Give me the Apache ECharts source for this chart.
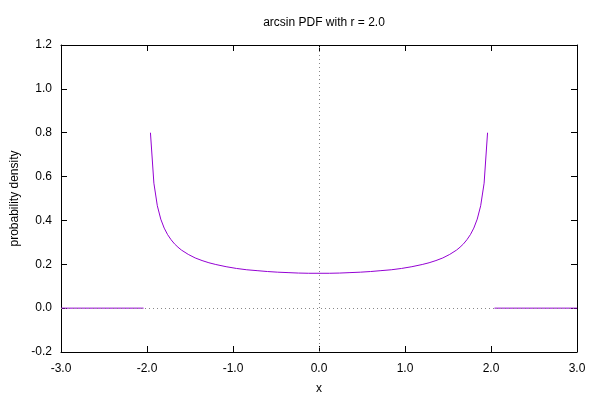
<!DOCTYPE html>
<html><head><meta charset="utf-8">
<script src="https://cdn.jsdelivr.net/npm/echarts@6/dist/echarts.min.js"></script>
<style>html,body{margin:0;padding:0;background:#fff}#c{width:600px;height:400px}</style>
</head><body><div id="c"></div>
<script>
const titleText = 'arcsin PDF with r = 2.0';
const xTicks = [-3, -2, -1, 0, 1, 2, 3];
const yTicks = [-0.2, 0, 0.2, 0.4, 0.6, 0.8, 1.0, 1.2];
// outside support: density 0
const leftZeroX = [-3.0, -2.04];
const leftZeroY = [0, 0];
const rightZeroX = [2.04, 3.0];
const rightZeroY = [0, 0];
// inside support
const curveX = [-1.96,-1.92,-1.88,-1.84,-1.80,-1.76,-1.72,-1.68,-1.64,-1.60,-1.52,-1.44,-1.36,-1.28,-1.20,-1.08,-0.96,-0.84,-0.72,-0.60,-0.48,-0.36,-0.24,-0.12,0,
  0.12,0.24,0.36,0.48,0.60,0.72,0.84,0.96,1.08,1.20,1.28,1.36,1.44,1.52,1.60,1.64,1.68,1.72,1.76,1.80,1.84,1.88,1.92,1.96];
const curveY = [0.80,0.57,0.467,0.406,0.365,0.335,0.312,0.293,0.278,0.265,0.245,0.229,0.217,0.207,0.199,0.189,0.181,0.175,0.171,0.167,0.164,0.162,0.160,0.159,0.159,
  0.159,0.160,0.162,0.164,0.167,0.171,0.175,0.181,0.189,0.199,0.207,0.217,0.229,0.245,0.265,0.278,0.293,0.312,0.335,0.365,0.406,0.467,0.57,0.80];

const zip = (a, b) => a.map((v, i) => [v, b[i]]);
const purple = '#9400d3';
const font = 'Liberation Sans, Arial, sans-serif';
const lbl = {color: '#000', fontFamily: font, fontSize: 12};
const tickStyle = {show: true, inside: true, length: 6, lineStyle: {color: '#000', width: 1}};

const chart = echarts.init(document.getElementById('c'), null, {renderer: 'canvas'});
chart.setOption({
  animation: false,
  title: {text: titleText, left: 319, top: 12, textAlign: 'center',
    textStyle: {fontFamily: font, fontSize: 12, fontWeight: 'normal', color: '#000'}},
  grid: {left: 61, right: 23, top: 45, bottom: 48},
  xAxis: [
    {type: 'value', min: -3, max: 3, interval: 1, position: 'bottom',
     name: 'x', nameLocation: 'middle', nameGap: 31, nameTextStyle: lbl,
     axisLine: {show: true, onZero: false, lineStyle: {color: '#000', width: 1}},
     axisTick: tickStyle, splitLine: {show: false},
     axisLabel: Object.assign({margin: 11, formatter: v => v.toFixed(1)}, lbl)},
    {type: 'value', min: -3, max: 3, interval: 1, position: 'top',
     axisLine: {show: true, onZero: false, lineStyle: {color: '#000', width: 1}},
     axisTick: tickStyle, splitLine: {show: false}, axisLabel: {show: false}}
  ],
  yAxis: [
    {type: 'value', min: -0.2, max: 1.2, interval: 0.2, position: 'left',
     name: 'probability density', nameLocation: 'middle', nameGap: 40, nameRotate: 90, nameTextStyle: lbl,
     axisLine: {show: true, onZero: false, lineStyle: {color: '#000', width: 1}},
     axisTick: tickStyle, splitLine: {show: false},
     axisLabel: Object.assign({margin: 9, formatter: v => v.toFixed(1)}, lbl)},
    {type: 'value', min: -0.2, max: 1.2, interval: 0.2, position: 'right',
     axisLine: {show: true, onZero: false, lineStyle: {color: '#000', width: 1}},
     axisTick: tickStyle, splitLine: {show: false}, axisLabel: {show: false}}
  ],
  series: [
    {type: 'line', data: [], silent: true,
     markLine: {silent: true, symbol: 'none', label: {show: false},
       lineStyle: {color: '#888', type: [1, 3], width: 1},
       data: [{xAxis: 0}, {yAxis: 0}]}},
    {type: 'line', data: zip(leftZeroX, leftZeroY), showSymbol: false, lineStyle: {color: purple, width: 1}, silent: true},
    {type: 'line', data: zip(curveX, curveY), showSymbol: false, lineStyle: {color: purple, width: 1}, silent: true},
    {type: 'line', data: zip(rightZeroX, rightZeroY), showSymbol: false, lineStyle: {color: purple, width: 1}, silent: true}
  ]
});
</script>
</body></html>
